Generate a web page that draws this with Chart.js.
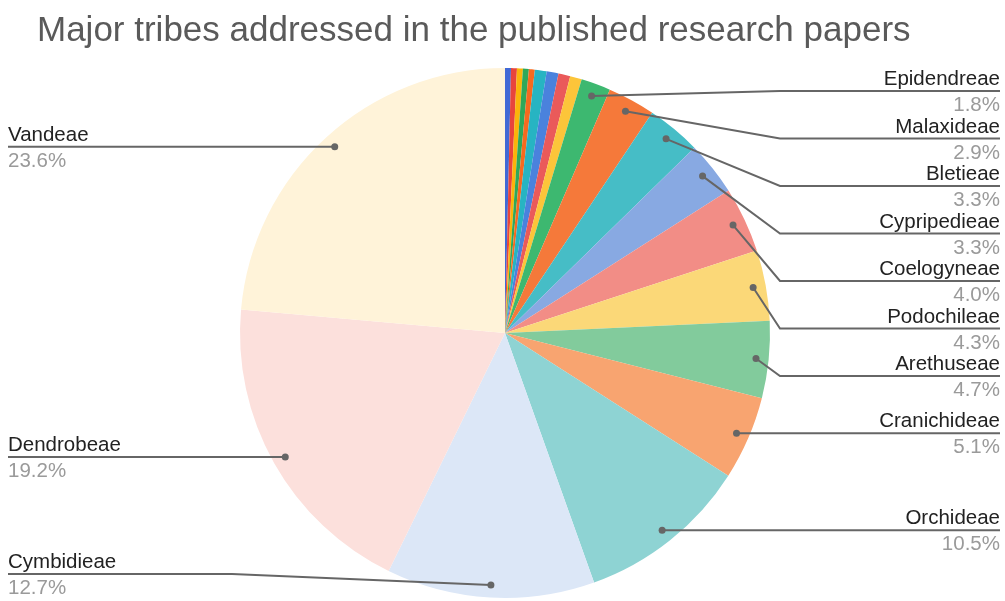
<!DOCTYPE html>
<html>
<head>
<meta charset="utf-8">
<title>Major tribes addressed in the published research papers</title>
<script src="https://cdn.jsdelivr.net/npm/chart.js@4.4.1/dist/chart.umd.min.js"></script>
<style>
  html, body { margin: 0; padding: 0; background: #ffffff; overflow: hidden; }
  canvas { display: block; }
</style>
</head>
<body>
<canvas id="tribesChart" width="1005" height="601"></canvas>
<script>
// Tribe names in slice order (clockwise from 12 o'clock); minor tribes are unlabeled
const tribes = ['', '', '', '', '', '', '', '', '',
  'Epidendreae', 'Malaxideae', 'Bletieae', 'Cypripedieae', 'Coelogyneae',
  'Podochileae', 'Arethuseae', 'Cranichideae', 'Orchideae', 'Cymbidieae',
  'Dendrobeae', 'Vandeae'];

// Share of papers per tribe, in percent
const shares = [0.36, 0.36, 0.36, 0.36, 0.36, 0.72, 0.72, 0.72, 0.72,
  1.8, 2.9, 3.3, 3.3, 4.0,
  4.3, 4.7, 5.1, 10.5, 12.7,
  19.2, 23.6];

const sliceColors = ['#4169d6', '#e8453c', '#fbb40a', '#2fa85a', '#f66a1f', '#27b4c2',
  '#4a82dd', '#ea5a5a', '#fcc53a',
  '#3db870', '#f5793a', '#46bdc6', '#88a9e2', '#f28d86',
  '#fbd878', '#82cb9c', '#f8a470', '#8ed3d3', '#dce7f7',
  '#fce0dc', '#fff3d9'];

const chartTitle = 'Major tribes addressed in the published research papers';

const FONT = '"Liberation Sans", Arial, Helvetica, sans-serif';

// Place callout rows: overlapping rows are merged into evenly spaced
// clusters, each centred on its anchors and kept inside [top, bottom]
function stackRows(list, gap, top, bottom) {
  list.sort((a, b) => a.py - b.py);
  const clusters = [];
  list.forEach(it => {
    clusters.push({ items: [it], start: it.py });
    for (;;) {
      const c = clusters[clusters.length - 1];
      const n = c.items.length;
      let s = c.items.reduce((acc, t, k) => acc + t.py - k * gap, 0) / n;
      s = Math.min(Math.max(s, top), bottom - (n - 1) * gap);
      c.start = s;
      const p = clusters[clusters.length - 2];
      if (p && p.start + p.items.length * gap > s) {
        p.items = p.items.concat(c.items);
        clusters.pop();
      } else {
        break;
      }
    }
  });
  clusters.forEach(c => c.items.forEach((t, k) => { t.ly = c.start + k * gap; }));
}

const calloutPlugin = {
  id: 'callouts',
  afterDraw(chart) {
    const ctx = chart.ctx;
    const meta = chart.getDatasetMeta(0);
    const W = chart.width;

    ctx.save();
    // Title
    ctx.font = '35px ' + FONT;
    ctx.fillStyle = '#5a5a5a';
    ctx.textAlign = 'left';
    ctx.textBaseline = 'alphabetic';
    ctx.fillText(chartTitle, 37, 41);

    // Anchor points inside each labeled slice
    const left = [], right = [];
    meta.data.forEach((arc, i) => {
      if (!tribes[i]) return;
      const mid = (arc.startAngle + arc.endAngle) / 2;
      const d = arc.outerRadius * 0.952;
      const it = {
        i,
        px: arc.x + d * Math.cos(mid),
        py: arc.y + d * Math.sin(mid),
        cx: arc.x,
        r: arc.outerRadius
      };
      (Math.cos(mid) > 0 ? right : left).push(it);
    });

    stackRows(right, 47.5, 91, 574);
    stackRows(left, 47.5, 91, 574);

    const lineColor = '#666666';
    const drawCallout = (it, isRight) => {
      const elbowX = isRight ? it.cx + it.r + 10 : it.cx - it.r - 8;
      const endX = isRight ? W - 5 : 8;
      ctx.strokeStyle = lineColor;
      ctx.lineWidth = 2;
      ctx.beginPath();
      ctx.moveTo(it.px, it.py);
      if (Math.abs(it.ly - it.py) > 0.5) {
        ctx.lineTo(elbowX, it.ly);
      }
      ctx.lineTo(endX, it.ly);
      ctx.stroke();

      ctx.fillStyle = lineColor;
      ctx.beginPath();
      ctx.arc(it.px, it.py, 3.5, 0, Math.PI * 2);
      ctx.fill();

      ctx.textAlign = isRight ? 'right' : 'left';
      ctx.font = '20.5px ' + FONT;
      ctx.fillStyle = '#222222';
      ctx.fillText(tribes[it.i], endX, it.ly - 6);
      ctx.fillStyle = '#9a9a9a';
      ctx.fillText(shares[it.i].toFixed(1) + '%', endX, it.ly + 20);
    };
    right.forEach(it => drawCallout(it, true));
    left.forEach(it => drawCallout(it, false));
    ctx.restore();
  }
};

new Chart(document.getElementById('tribesChart'), {
  type: 'pie',
  data: {
    labels: tribes,
    datasets: [{
      data: shares,
      backgroundColor: sliceColors,
      borderWidth: 0,
      hoverOffset: 0,
      offset: 0
    }]
  },
  options: {
    responsive: false,
    devicePixelRatio: 1,
    animation: false,
    layout: { padding: { top: 68, bottom: 3, left: 240, right: 235 } },
    plugins: {
      legend: { display: false },
      title: { display: false },
      tooltip: { enabled: false }
    }
  },
  plugins: [calloutPlugin]
});
</script>
</body>
</html>
